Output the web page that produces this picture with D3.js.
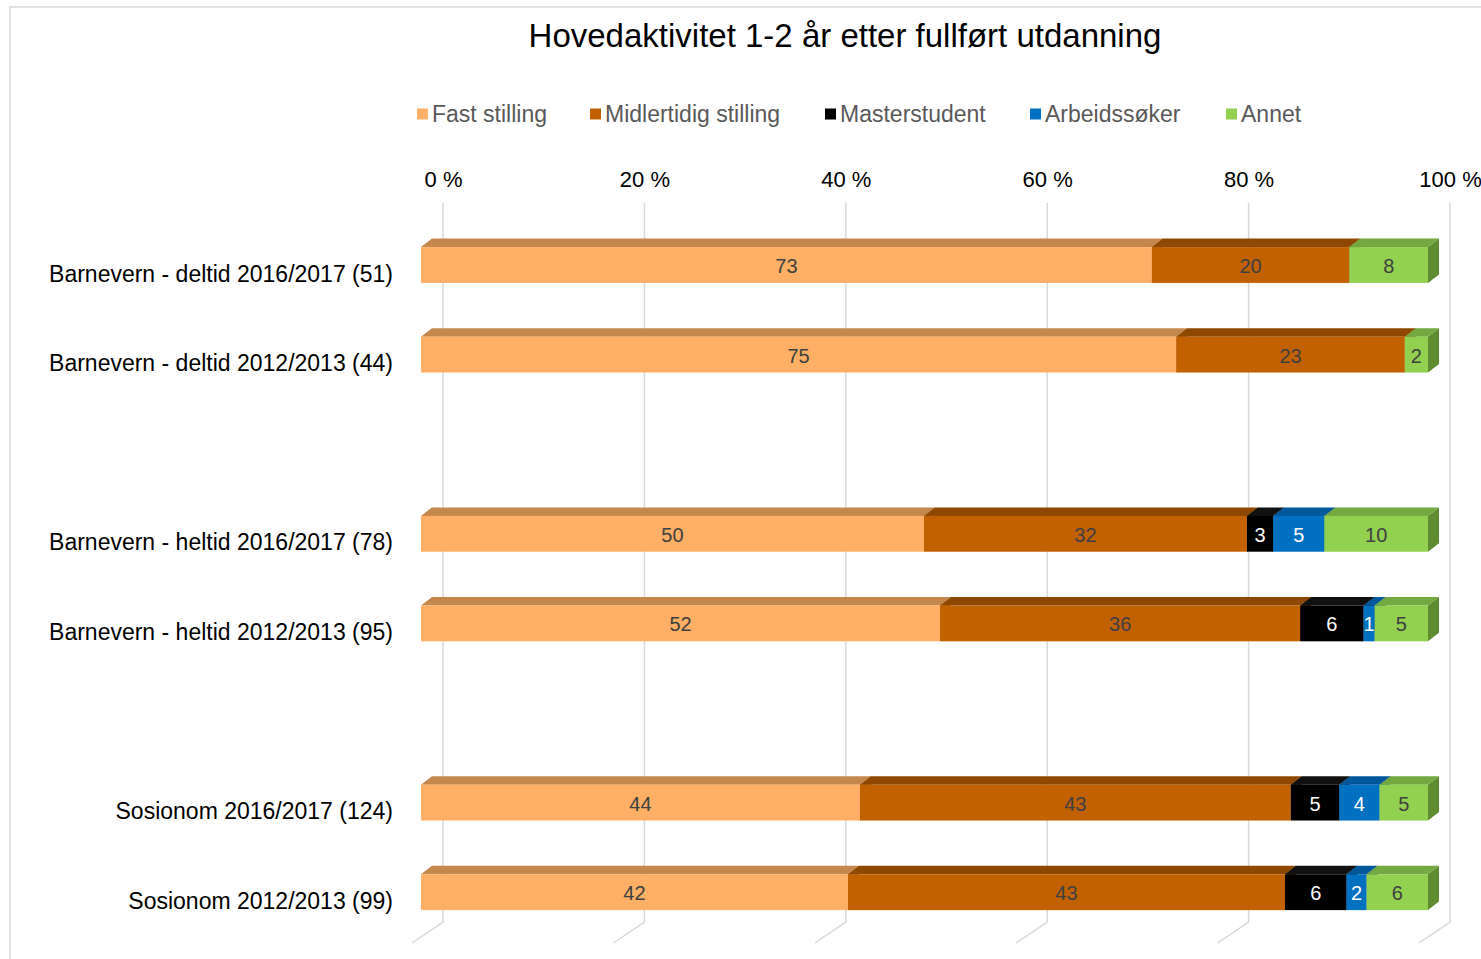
<!DOCTYPE html>
<html>
<head>
<meta charset="utf-8">
<script src="https://cdn.jsdelivr.net/npm/d3@7"></script>
<style>
  html, body { margin: 0; padding: 0; background: #fff; }
  svg { display: block; font-family: "Liberation Sans", Arial, sans-serif; }
</style>
</head>
<body>
<svg id="chart" width="1481" height="959"></svg>
<script>
// ---- data ----
const title = "Hovedaktivitet 1-2 år etter fullført utdanning";
const categories = [
  "Barnevern - deltid 2016/2017 (51)",
  "Barnevern - deltid 2012/2013 (44)",
  "Barnevern - heltid 2016/2017 (78)",
  "Barnevern - heltid 2012/2013 (95)",
  "Sosionom 2016/2017 (124)",
  "Sosionom 2012/2013 (99)"
];
const seriesNames = ["Fast stilling", "Midlertidig stilling", "Masterstudent", "Arbeidssøker", "Annet"];
const fastStilling        = [72.5, 75.0, 50.0, 51.6, 43.5, 42.4];
const midlertidigStilling = [19.6, 22.7, 32.1, 35.8, 42.7, 43.4];
const masterstudent       = [0,    0,    2.6,  6.3,  4.8,  6.1];
const arbeidssoker        = [0,    0,    5.1,  1.1,  4.0,  2.0];
const annet               = [7.8,  2.3,  10.3, 5.3,  4.8,  6.1];
const tickValues = [0, 20, 40, 60, 80, 100];

// ---- styles ----
const frontColors = ["#FFB066", "#C26100", "#000000", "#0070C0", "#92D050"];
const topColors   = ["#C4874C", "#8F4800", "#111111", "#00589A", "#74A840"];
const sideColors  = ["#B07540", "#7A3D00", "#0A0A0A", "#004C85", "#5F8C30"];
const labelColors = ["#404040", "#404040", "#FFFFFF", "#FFFFFF", "#404040"];

const svg = d3.select("#chart");
const font = '"Liberation Sans", Arial, sans-serif';

// chart border
svg.append("rect").attr("x", 10).attr("y", 7).attr("width", 1500).attr("height", 1000)
  .attr("fill", "none").attr("stroke", "#D9D9D9").attr("stroke-width", 1.5);

// table
const seriesArrays = [fastStilling, midlertidigStilling, masterstudent, arbeidssoker, annet];
const table = categories.map((c, i) => {
  const row = { category: c };
  seriesNames.forEach((s, j) => row[s] = seriesArrays[j][i]);
  return row;
});
const stacked = d3.stack().keys(seriesNames).offset(d3.stackOffsetExpand)(table);

// slots: gap after every two categories
const slots = [];
categories.forEach((c, i) => {
  slots.push(c);
  if (i % 2 === 1 && i < categories.length - 1) slots.push("__gap" + i);
});

const y = d3.scaleBand().domain(slots).range([220.2, 937]).paddingInner(0.6).paddingOuter(0.3);
const xFront = d3.scaleLinear().domain([0, 1]).range([421, 1428]);
const xBack = d3.scaleLinear().domain([0, 100]).range([443, 1450]);
const xFloor = d3.scaleLinear().domain([0, 100]).range([412, 1419]);
const bdx = 11, bdy = 8.5;          // bar depth offset
const backTop = 203, backBottom = 922, floorFront = 943;

// gridlines (back wall + floor)
const grid = svg.append("g");
tickValues.forEach(t => {
  grid.append("path")
    .attr("d", `M${xBack(t)},${backTop}L${xBack(t)},${backBottom}L${xFloor(t)},${floorFront}`)
    .attr("fill", "none").attr("stroke", "#D9D9D9").attr("stroke-width", 1.5);
});

// top axis labels
const axis = d3.axisTop(xBack).tickValues(tickValues).tickSize(0).tickPadding(0)
  .tickFormat(d => d + " %");
const axG = svg.append("g").attr("transform", "translate(0,186.5)").call(axis);
axG.select(".domain").remove();
axG.selectAll("text").attr("font-family", font).attr("font-size", 22).attr("fill", "#000");

// bars
const barsG = svg.append("g");
categories.forEach((c, i) => {
  const y0 = y(c), h = y.bandwidth();
  stacked.forEach((s, j) => {
    const d = s[i];
    const x0 = xFront(d[0]), x1 = xFront(d[1]);
    if (x1 - x0 <= 0.01) return;
    const g = barsG.append("g");
    g.append("path")
      .attr("d", `M${x1},${y0}L${x1 + bdx},${y0 - bdy}L${x1 + bdx},${y0 + h - bdy}L${x1},${y0 + h}Z`)
      .attr("fill", sideColors[j]);
    g.append("path")
      .attr("d", `M${x0},${y0}L${x0 + bdx},${y0 - bdy}L${x1 + bdx},${y0 - bdy}L${x1},${y0}Z`)
      .attr("fill", topColors[j]);
    g.append("rect").attr("x", x0).attr("y", y0).attr("width", x1 - x0).attr("height", h)
      .attr("fill", frontColors[j]);
  });
});

// data labels
const lblG = svg.append("g");
categories.forEach((c, i) => {
  const yc = y(c) + y.bandwidth() / 2 + 1;
  stacked.forEach((s, j) => {
    const d = s[i];
    const v = seriesArrays[j][i];
    if (!v) return;
    lblG.append("text")
      .attr("x", (xFront(d[0]) + xFront(d[1])) / 2)
      .attr("y", yc)
      .attr("text-anchor", "middle").attr("dominant-baseline", "central")
      .attr("font-family", font).attr("font-size", 20).attr("fill", labelColors[j])
      .text(Math.round(v));
  });
});

// category labels
const catG = svg.append("g");
categories.forEach(c => {
  catG.append("text")
    .attr("x", 393).attr("y", y(c) + y.bandwidth() / 2 + 8.5)
    .attr("text-anchor", "end").attr("dominant-baseline", "central")
    .attr("font-family", font).attr("font-size", 23).attr("fill", "#000")
    .text(c);
});

// title
svg.append("text").attr("x", 845).attr("y", 35)
  .attr("text-anchor", "middle").attr("dominant-baseline", "central")
  .attr("font-family", font).attr("font-size", 33).attr("fill", "#000")
  .text(title);

// legend
const legendX = [417, 590, 825, 1030, 1226];
const legG = svg.append("g");
seriesNames.forEach((s, j) => {
  legG.append("rect").attr("x", legendX[j]).attr("y", 108.5).attr("width", 11).attr("height", 11)
    .attr("fill", frontColors[j]);
  legG.append("text").attr("x", legendX[j] + 15).attr("y", 114)
    .attr("dominant-baseline", "central")
    .attr("font-family", font).attr("font-size", 23).attr("fill", "#595959")
    .text(s);
});
</script>
</body>
</html>
